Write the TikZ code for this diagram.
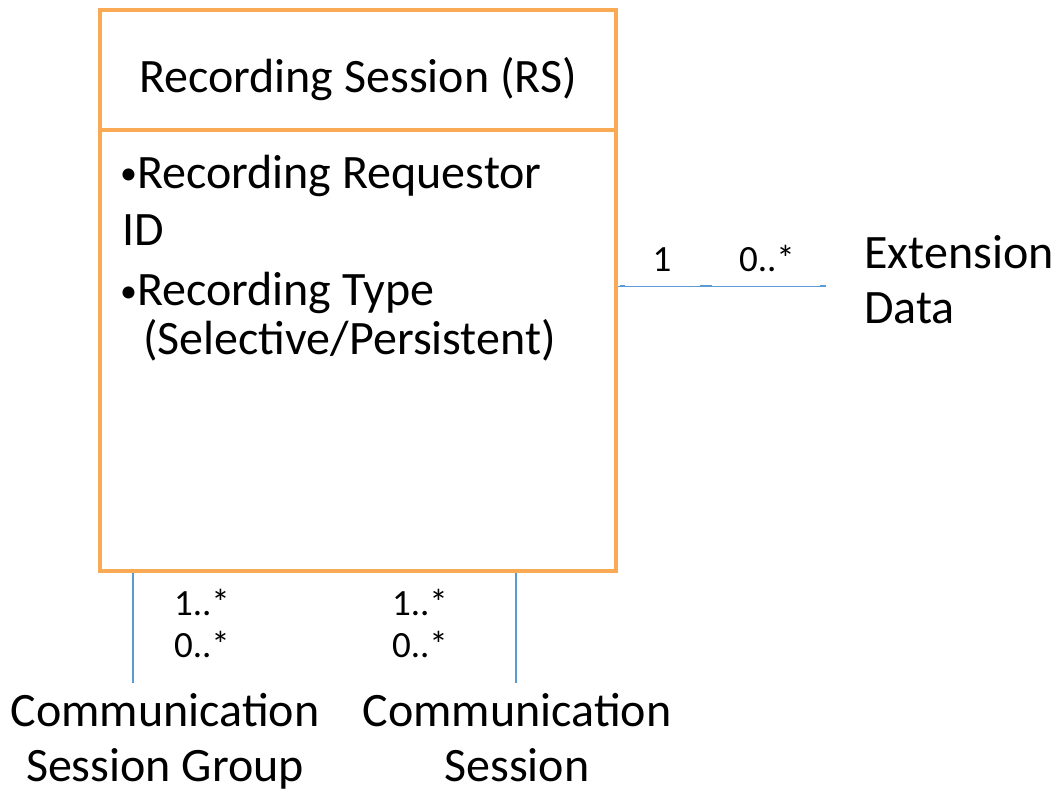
\documentclass[tikz,border=0pt]{standalone}
\usepackage{fontspec}
\setmainfont{Carlito}
\usetikzlibrary{positioning}

\definecolor{rsorange}{RGB}{250,170,85}
\definecolor{linkblue}{RGB}{91,155,213}

\newcommand{\smallbullet}{{\fontsize{34}{34}\selectfont\raisebox{3pt}{\textbullet}}}

\begin{document}
\begin{tikzpicture}[x=1pt,y=-1pt,
  entity/.style={draw=rsorange,line width=4pt,rectangle,inner sep=0pt},
  big/.style={font=\fontsize{48}{55}\selectfont,inner sep=0pt,anchor=base},
  mult/.style={font=\fontsize{37}{42}\selectfont,inner sep=0pt,anchor=base},
  assoc/.style={draw=linkblue,line width=1.5pt},
  tick/.style={draw=linkblue,line width=2.5pt}]
  \useasboundingbox (0,0) rectangle (1055,789);

  \node[entity,minimum width=516pt,minimum height=561pt] (rs) at (358,290.5) {};
  \node[big] (rstitle) at (358,93) {Recording Session (RS)};
  \coordinate (divl) at (100,130);
  \coordinate (divr) at (616,130);
  \draw[draw=rsorange,line width=4pt](divl)--(divr);
  \node[big,anchor=base west] (attr1) at (120,188) {\smallbullet Recording Requestor};
  \node[big,anchor=base west] (attr1b) at (122,245) {ID};
  \node[big,anchor=base west] (attr2) at (120,305) {\smallbullet Recording Type};
  \node[big,anchor=base west] (attr2b) at (143,354) {(Selective/Persistent)};

  % extension data
  \node[big,anchor=base west] (ext) at (864,268) {Extension};
  \node[big,anchor=base west] (extb) at (864,323) {Data};
  \coordinate (extend) at (826,286);
  \draw[assoc,line width=1pt](rs.east |- extend)--(extend);
  \coordinate (t1) at (620,286);
  \coordinate (t2) at (700,286);
  \coordinate (t3) at (820,286);
  \draw[tick](t1)--++(5,0);
  \draw[tick](t2)--++(12,0);
  \draw[tick](t3)--++(6,0);
  \node[mult] (m1) at (662,271) {1};
  \node[mult] (m2) at (767,271) {0..*};

  % communication sessions
  \node[big] (csg) at (165,726) {Communication};
  \node[big] (csgb) at (165,781) {Session Group};
  \node[big] (cs) at (517,726) {Communication};
  \node[big] (csb) at (517,781) {Session};
  \coordinate (csgtop) at (133,683);
  \coordinate (cstop) at (516,683);
  \draw[assoc](rs.south -| csgtop)--(csgtop);
  \draw[assoc](rs.south -| cstop)--(cstop);
  \node[mult] (m3) at (202,615) {1..*};
  \node[mult] (m3b) at (202,657) {0..*};
  \node[mult] (m4) at (420,615) {1..*};
  \node[mult] (m4b) at (420,657) {0..*};
\end{tikzpicture}
\end{document}
